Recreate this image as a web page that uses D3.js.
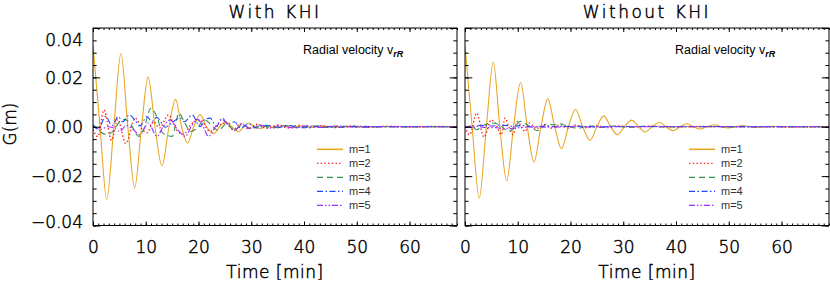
<!DOCTYPE html>
<html><head><meta charset="utf-8">
<script src="https://cdn.jsdelivr.net/npm/d3@7"></script>
<style>
html,body{margin:0;padding:0;background:#fff;}
svg{display:block;}
.lbl{font-family:"DejaVu Sans",sans-serif;font-weight:200;fill:#000;stroke:#000;stroke-width:0.45px;}
</style></head><body>
<svg id="c" width="830" height="284"></svg>
<script>
// ---- data ----
const panelTitles = ["With KHI", "Without KHI"];
const seriesNames = ["m=1", "m=2", "m=3", "m=4", "m=5"];
const yTickLabels = ["\u22120.04", "\u22120.02", "0.00", "0.02", "0.04"];
const yMajor = [-0.04, -0.02, 0, 0.02, 0.04];
const xMajor = [0, 10, 20, 30, 40, 50, 60];
const xLabel = "Time [min]";
const yLabel = "G(m)";
const annotation = "Radial velocity v";
const annotationSub = "rR";

// [time (min), G(m)]
const leftM1 = [[0,0.033],[1.33,0],[2.6,-0.0294],[3.95,0],[5.3,0.0298],[6.6,0],[7.9,-0.0247],[9.2,0],[10.45,0.0202],[11.75,0],[13.08,-0.0159],[14.4,0],[15.65,0.0111],[16.8,0],[17.9,-0.0066],[19.1,0],[20.3,0.0049],[21.5,0],[22.9,-0.0028],[24.0,0],[25.1,0.0021],[26.3,0],[27.6,-0.002],[28.6,0],[29.5,0.0015],[30.6,0],[31.8,-0.0007],[33,0.0003],[34.5,-0.0004],[36,0.0003],[37.5,-0.0002],[39.5,0.0003],[41.5,-0.0002],[44,0.0002],[47,-0.0001],[50,0.0001],[55,0],[69,0]];
const leftM2 = [[0,-0.001],[0.9,-0.004],[2.1,0.0068],[3.5,-0.0055],[4.7,0.003],[6.2,-0.0068],[8.0,0.0035],[9.3,-0.001],[10.2,-0.0025],[11.5,0.002],[12.6,-0.0005],[14.3,0.0048],[15.8,-0.0012],[17.2,-0.003],[18.6,0.001],[20.3,0.0028],[22.2,-0.0019],[23.8,0.0005],[25.2,0.0015],[26.6,-0.0012],[28.0,0.0012],[29.5,-0.0008],[31,0.001],[33,-0.0006],[35,0.0007],[37,-0.0005],[39,0.0006],[41,-0.0004],[43,0.0004],[46,-0.0003],[49,0.0003],[52,-0.0002],[56,0.0002],[60,-0.0001],[64,0.0001],[69,0]];
const leftM3 = [[0,0.0008],[1.3,-0.0019],[2.6,-0.0032],[3.6,-0.0022],[4.6,0.0008],[6.0,0.003],[7.0,0.0015],[8.7,-0.0039],[9.6,-0.001],[11.0,0.0075],[12.1,0.0041],[13.2,-0.0025],[15.0,-0.0039],[16.3,0.0055],[17.3,0.002],[18.5,-0.0019],[19.5,-0.001],[21.2,0.0028],[22.5,0.0005],[23.8,-0.0015],[25.3,0.0012],[26.8,-0.0014],[28.3,0.0008],[30,-0.0008],[32,0.0006],[34,-0.0005],[36.5,0.0005],[39,-0.0004],[41.5,0.0004],[44,-0.0003],[47,0.0002],[51,-0.0002],[55,0.0001],[60,0],[69,0]];
const leftM4 = [[0,0.0008],[1.0,-0.001],[2.4,0.0042],[3.6,0.0005],[4.8,0.0041],[5.6,0.002],[6.9,0.0048],[8.0,0.0025],[8.9,0.0003],[10.2,0.0041],[11.2,0.0022],[12.1,0.0038],[13.7,-0.0002],[14.6,0.001],[16.5,0.0035],[17.3,0.002],[18.8,0.0048],[20.3,0],[21.1,0.0028],[22.2,0.0035],[23.4,0.0002],[24.5,0.0035],[25.6,0.001],[26.8,0.002],[28,-0.0005],[29.5,0.0012],[31,-0.0005],[33,0.0006],[35,-0.0004],[37,0.0005],[40,-0.0004],[43,0.0003],[46,-0.0002],[50,0.0002],[55,-0.0001],[60,0],[69,0]];
const leftM5 = [[0,0],[1.5,-0.001],[2.8,0],[4.0,-0.0005],[5.1,-0.0019],[6.3,0.0005],[7.3,-0.0005],[8.9,-0.0032],[10.5,0.0015],[12.1,-0.0039],[13.3,0],[14.6,0.0028],[16.0,-0.001],[17.5,-0.0039],[18.6,0],[19.7,0.003],[20.8,0.0005],[21.9,-0.0039],[23.2,0],[24.5,0.0028],[25.8,0.0002],[26.8,-0.0015],[28.2,0.0012],[29.8,-0.0008],[31.5,0.0008],[33.5,-0.0006],[35.5,0.0006],[38,-0.0005],[40.5,0.0004],[43,-0.0003],[46,0.0003],[50,-0.0002],[55,0.0001],[60,0],[69,0]];

const rightM1 = [[0,0.0328],[1.35,0],[2.7,-0.0289],[4.05,0],[5.36,0.0261],[6.6,0],[7.9,-0.0219],[9.2,0],[10.55,0.0179],[11.8,0],[13.07,-0.0143],[14.4,0],[15.7,0.0113],[17.0,0],[18.3,-0.0089],[19.6,0],[20.96,0.0071],[22.3,0],[23.7,-0.0055],[25.0,0],[26.3,0.0044],[27.6,0],[28.9,-0.0032],[30.2,0],[31.6,0.0027],[32.9,0],[34.1,-0.0021],[35.5,0],[36.85,0.0018],[38.1,0],[39.45,-0.0016],[40.8,0],[42.1,0.0012],[43.3,0],[44.5,-0.0009],[45.9,0],[47.3,0.0008],[48.6,0],[49.9,-0.0005],[51.3,0],[52.7,0.0005],[54,0],[55.3,-0.0003],[56.8,0],[58.2,0.0002],[59.7,0],[61,-0.0001],[69,0]];
const rightM2 = [[0,0],[0.9,-0.0032],[2.2,0.0055],[3.6,-0.0042],[5.0,0.0028],[5.7,0.0015],[6.9,-0.0032],[7.6,0.0035],[8.3,0],[9.15,-0.0032],[9.9,0.0021],[11.4,-0.0019],[12.2,0.0015],[13.5,-0.0008],[15.2,0.0008],[16.5,-0.0006],[18,0.0008],[19.5,-0.0005],[21,0.0006],[23,-0.0004],[25,0.0004],[27,-0.0003],[29,0.0003],[32,-0.0002],[35,0.0002],[40,-0.0001],[45,0.0001],[50,0],[69,0]];
const rightM3 = [[0,0],[1.2,0.0003],[2.2,-0.0012],[3.7,0.0008],[5.3,0.0015],[6.5,0.0008],[8.3,-0.0019],[9.2,-0.0005],[10.6,0.0022],[12.0,0.0005],[13.9,-0.0016],[15.6,0.0013],[16.8,0.0008],[18,0.0012],[19.8,0],[21.5,-0.0006],[23.5,0.0004],[25.5,-0.0003],[28,0.0003],[31,-0.0002],[34,0.0002],[38,-0.0001],[42,0],[69,0]];
const rightM4 = [[0,0],[1.5,-0.0004],[3,0.0006],[5,0.0003],[7,0.0007],[9,0.0002],[11,0.0005],[13,-0.0002],[15,0.0003],[18,0.0001],[21,0.0002],[25,0],[30,0.0001],[69,0]];
const rightM5 = [[0,0],[2,0.0002],[4,-0.0003],[6,-0.0004],[8,-0.0008],[9.5,-0.0005],[11,-0.0002],[13,0.0001],[16,-0.0002],[20,0],[25,-0.0001],[30,0],[69,0]];

const panelSeries = [[leftM1,leftM2,leftM3,leftM4,leftM5],[rightM1,rightM2,rightM3,rightM4,rightM5]];

// ---- styles ----
const colors = ["#E8A623", "#FF2020", "#33954D", "#1E46FF", "#9B30FF"];
const dashes = [null, "1.4,2.3", "6,4", "6,2.5,1.5,2.5", "6,2,1.5,2,1.5,2"];
const widths = [1.1, 1.4, 1.1, 1.1, 1.1];

const svg = d3.select("#c");
const plotTop = 28, plotBottom = 225.5;
const panels = [{x0:93, x1:457}, {x0:465, x1:829}];
const y = d3.scaleLinear().domain([-0.04, 0.04]).range([plotBottom, plotTop]);
const yMinor = d3.range(-0.04, 0.0401, 0.005).map(v => +v.toFixed(3));
const xMinor = d3.range(0, 70, 1);

panels.forEach((p, pi) => {
  const x = d3.scaleLinear().domain([0, 69]).range([p.x0, p.x1]);
  const g = svg.append("g");
  const clipId = "clip" + pi;
  svg.append("clipPath").attr("id", clipId).append("rect")
    .attr("x", p.x0).attr("y", plotTop).attr("width", p.x1 - p.x0).attr("height", plotBottom - plotTop);

  const line = d3.line().x(d => x(d[0])).y(d => y(d[1])).curve(d3.curveMonotoneX);
  const lg = g.append("g").attr("clip-path", `url(#${clipId})`);
  panelSeries[pi].forEach((s, si) => {
    lg.append("path").attr("d", line(s)).attr("fill", "none")
      .attr("stroke", colors[si]).attr("stroke-width", widths[si])
      .attr("stroke-dasharray", dashes[si]);
  });

  g.append("rect").attr("x", p.x0).attr("y", plotTop).attr("width", p.x1 - p.x0).attr("height", plotBottom - plotTop)
    .attr("fill", "none").attr("stroke", "#000").attr("stroke-width", 1);

  const ylen = 7.3, xlen = 4;
  const la = g.append("g").attr("transform", `translate(${p.x0},0)`)
    .call(d3.axisLeft(y).tickValues(yMajor).tickSizeInner(-ylen).tickSizeOuter(0).tickPadding(10)
      .tickFormat((d, i) => pi === 0 ? yTickLabels[i] : ""));
  la.select(".domain").remove();
  g.append("g").attr("transform", `translate(${p.x0},0)`)
    .call(d3.axisLeft(y).tickValues(yMinor).tickSizeInner(-ylen/2).tickSizeOuter(0).tickFormat(""))
    .select(".domain").remove();
  g.append("g").attr("transform", `translate(${p.x1},0)`)
    .call(d3.axisRight(y).tickValues(yMajor).tickSizeInner(-ylen).tickSizeOuter(0).tickFormat(""))
    .select(".domain").remove();
  g.append("g").attr("transform", `translate(${p.x1},0)`)
    .call(d3.axisRight(y).tickValues(yMinor).tickSizeInner(-ylen/2).tickSizeOuter(0).tickFormat(""))
    .select(".domain").remove();
  const ba = g.append("g").attr("transform", `translate(0,${plotBottom})`)
    .call(d3.axisBottom(x).tickValues(xMajor).tickSizeInner(-xlen).tickSizeOuter(0).tickPadding(15.5).tickFormat(d3.format("d")));
  ba.select(".domain").remove();
  g.append("g").attr("transform", `translate(0,${plotBottom})`)
    .call(d3.axisBottom(x).tickValues(xMinor).tickSizeInner(-xlen/2).tickSizeOuter(0).tickFormat(""))
    .select(".domain").remove();
  g.append("g").attr("transform", `translate(0,${plotTop})`)
    .call(d3.axisTop(x).tickValues(xMajor).tickSizeInner(-xlen).tickSizeOuter(0).tickFormat(""))
    .select(".domain").remove();
  g.append("g").attr("transform", `translate(0,${plotTop})`)
    .call(d3.axisTop(x).tickValues(xMinor).tickSizeInner(-xlen/2).tickSizeOuter(0).tickFormat(""))
    .select(".domain").remove();

  g.selectAll(".tick line").attr("stroke", "#000").attr("stroke-width", 1);
  g.selectAll(".tick text").attr("class", "lbl").style("font-size", "17px")
    .attr("font-family", null).attr("fill", "#000");
  la.selectAll(".tick text").attr("dy", (d) => d === 0.04 ? "1.05em" : d === -0.04 ? "0.1em" : "0.33em");

  svg.append("text").attr("class", "lbl").attr("x", (p.x0 + p.x1) / 2).attr("y", 17.5)
    .attr("text-anchor", "middle").style("font-size", "17px").style("letter-spacing", "2.5px")
    .text(panelTitles[pi]);
  svg.append("text").attr("class", "lbl").attr("x", (p.x0 + p.x1) / 2).attr("y", 278)
    .attr("text-anchor", "middle").style("font-size", "17px").style("letter-spacing", "0.5px")
    .text(xLabel);

  const ann = svg.append("text").attr("x", p.x1 - 154).attr("y", 54)
    .style("font-family", "'Liberation Sans', Arial, sans-serif").style("font-size", "12.5px")
    .attr("fill", "#000");
  ann.append("tspan").text(annotation);
  ann.append("tspan").attr("dy", 3).style("font-size", "9px").style("font-weight", "bold")
    .style("font-style", "italic").text(annotationSub);

  const lx = p.x1 - 140, ly0 = 149.3, dyL = 14;
  seriesNames.forEach((n, i) => {
    const yy = ly0 + i * dyL;
    svg.append("line").attr("x1", lx).attr("x2", lx + 26).attr("y1", yy).attr("y2", yy)
      .attr("stroke", colors[i]).attr("stroke-width", i === 0 ? 1.6 : 1.3).attr("stroke-dasharray", dashes[i]);
    svg.append("text").attr("x", lx + 32).attr("y", yy + 4)
      .style("font-family", "'Liberation Sans', Arial, sans-serif").style("font-size", "11px")
      .attr("fill", "#333").text(n);
  });
});

svg.append("text").attr("class", "lbl").attr("transform", "translate(16,124) rotate(-90)")
  .attr("text-anchor", "middle").style("font-size", "17px").text(yLabel);
</script>
</body></html>
